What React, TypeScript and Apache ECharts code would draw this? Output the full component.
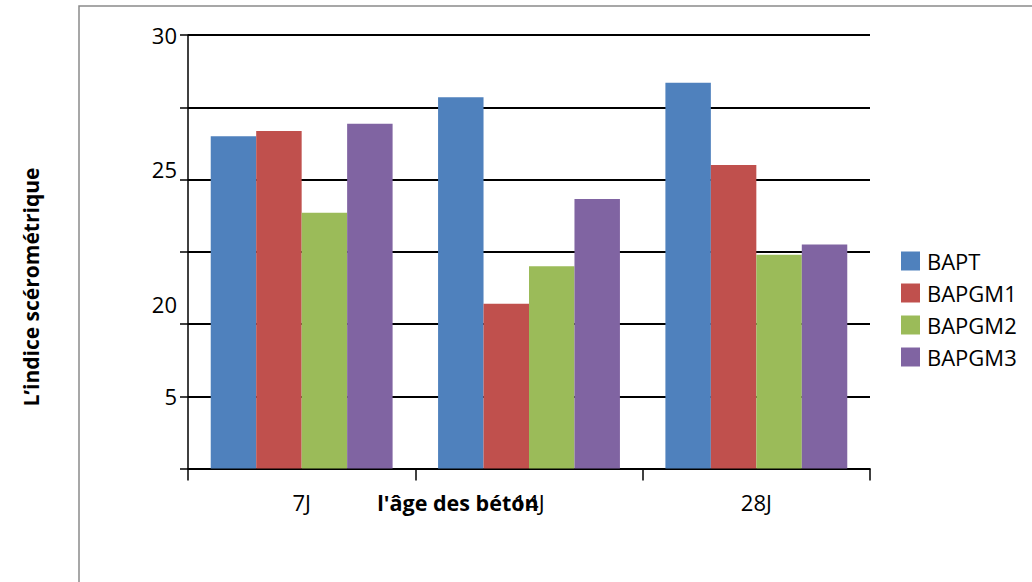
import React, { useEffect, useRef } from "react";
import * as echarts from "echarts";

// Concrete age groups and rebound-hammer index per mix
const categories = ["7J", "14J", "28J"];
const seriesNames = ["BAPT", "BAPGM1", "BAPGM2", "BAPGM3"];
const bapt = [23.0, 25.7, 26.7];
const bapgm1 = [23.35, 11.4, 21.0];
const bapgm2 = [17.7, 14.0, 14.8];
const bapgm3 = [23.85, 18.65, 15.5];
const colors = ["#4F81BD", "#C0504D", "#9BBB59", "#8064A2"];

// Tick values on the value axis and the text printed beside them
const tickLabels: Record<number, string> = { 30: "30", 20: "25", 10: "20", 5: "5" };

const FONT = "'Open Sans', 'Noto Sans', sans-serif";

export default function App() {
  const ref = useRef<HTMLDivElement>(null);

  useEffect(() => {
    if (!ref.current) return;
    const chart = echarts.init(ref.current, null, { renderer: "svg" });
    const values = [bapt, bapgm1, bapgm2, bapgm3];

    chart.setOption({
      animation: false,
      backgroundColor: "#ffffff",
      textStyle: { fontFamily: FONT },
      grid: { left: 188, right: 162, top: 35, bottom: 113.5 },
      legend: {
        orient: "vertical",
        left: 896,
        top: 240,
        itemWidth: 19,
        itemHeight: 19,
        itemGap: 0,
        icon: "rect",
        data: seriesNames,
        textStyle: {
          fontFamily: FONT,
          fontSize: 22,
          color: "#000",
          lineHeight: 19,
          padding: [13, 0, 0, 2],
        },
      },
      xAxis: {
        type: "category",
        data: categories,
        axisLine: { lineStyle: { color: "#000", width: 1.5 } },
        axisTick: { show: true, length: 12, lineStyle: { color: "#000", width: 1.5 } },
        axisLabel: { color: "#000", fontSize: 22, margin: 22, fontFamily: FONT },
      },
      yAxis: {
        type: "value",
        min: 0,
        max: 30,
        interval: 5,
        axisLine: { show: true, lineStyle: { color: "#000", width: 1.5 } },
        axisTick: { show: true, length: 8, lineStyle: { color: "#000", width: 1.5 } },
        splitLine: {
          show: true,
          lineStyle: { color: "#000", width: 2 },
        },
        axisLabel: {
          color: "#000",
          fontSize: 22,
          margin: 11,
          fontFamily: FONT,
          formatter: (v: number) => {
            const t = tickLabels[v];
            if (!t) return "";
            if (v === 20) return "{up1|" + t + "}";
            if (v === 10) return "{up2|" + t + "}";
            return t;
          },
          rich: {
            up1: { fontSize: 22, fontFamily: FONT, color: "#000", padding: [0, 0, 22, 0] },
            up2: { fontSize: 22, fontFamily: FONT, color: "#000", padding: [0, 0, 40, 0] },
          },
        },
      },
      series: seriesNames.map((name, i) => ({
        name,
        type: "bar",
        data: values[i],
        barGap: "0%",
        barCategoryGap: "20%",
        itemStyle: { color: colors[i] },
      })),
      graphic: [
        {
          type: "rect",
          silent: true,
          shape: { x: 79, y: 6, width: 1100, height: 700 },
          style: { fill: "none", stroke: "#8a8a8a", lineWidth: 1.5 },
          z: -1,
        },
        {
          type: "text",
          x: 458,
          y: 502,
          style: {
            text: "l'âge des béton",
            font: "bold 21.5px " + FONT,
            fill: "#000",
            align: "center",
            verticalAlign: "middle",
          },
          z: 10,
        },
        {
          type: "text",
          x: 31,
          y: 287,
          rotation: Math.PI / 2,
          style: {
            text: "L’indice scérométrique",
            font: "bold 21px " + FONT,
            fill: "#000",
            align: "center",
            verticalAlign: "middle",
          },
        },
      ],
    });

    return () => chart.dispose();
  }, []);

  return (
    <div
      ref={ref}
      style={{ position: "fixed", left: 0, top: 0, width: 1032, height: 582 }}
    />
  );
}
